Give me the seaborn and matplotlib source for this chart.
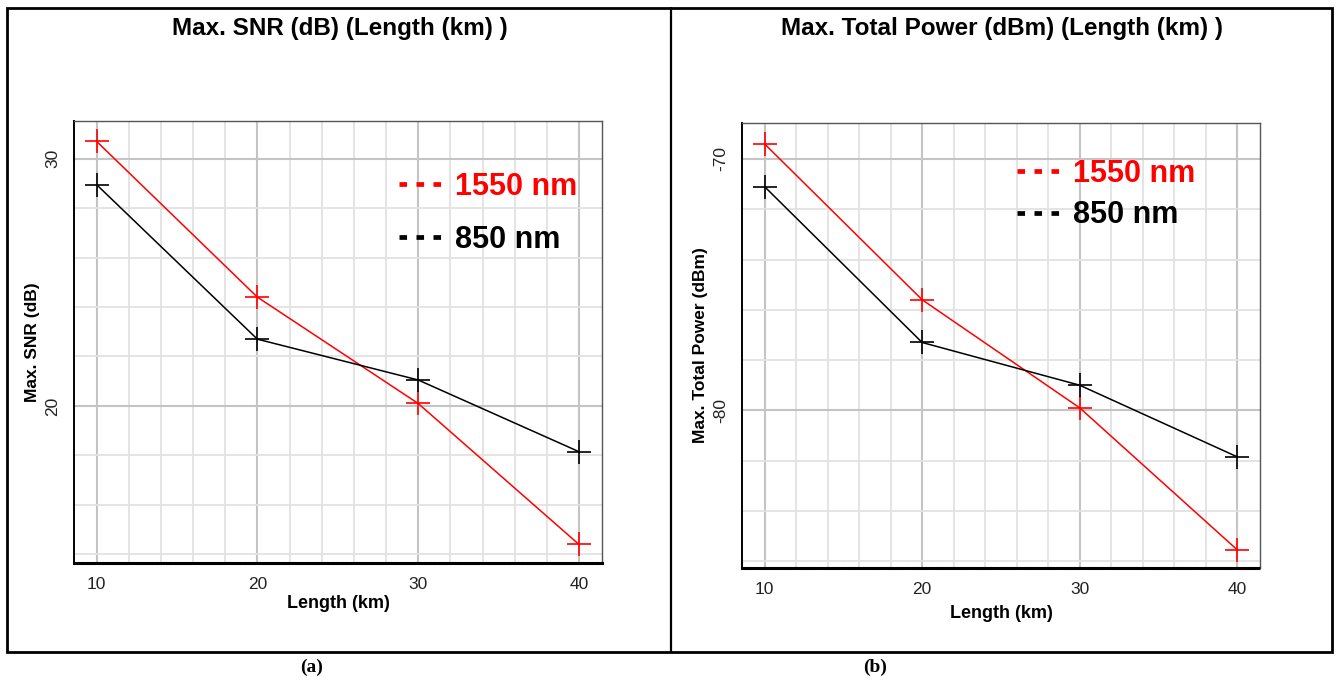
import numpy as np
import pandas as pd
import seaborn as sns
import matplotlib.pyplot as plt
from matplotlib.lines import Line2D
from matplotlib.patches import Rectangle
from matplotlib.ticker import MultipleLocator

# data
LENGTH_KM = [10, 20, 30, 40]
SNR_1550 = [30.7, 24.4, 20.1, 14.4]
SNR_850 = [28.95, 22.7, 21.05, 18.15]
POWER_1550 = [-69.4, -75.6, -79.9, -85.55]
POWER_850 = [-71.1, -77.3, -79.0, -81.85]
WAVELENGTHS = ['1550 nm', '850 nm']
COLORS = {'1550 nm': '#ff0000', '850 nm': '#000000'}

sns.set_style('white')
plt.rcParams['font.family'] = ['Liberation Sans', 'DejaVu Sans']
plt.rcParams['axes.unicode_minus'] = False
plt.rcParams['text.color'] = 'black'
plt.rcParams['axes.labelcolor'] = 'black'


def make_df(v1550, v850, name):
    df = pd.DataFrame({
        'Length': LENGTH_KM * 2,
        name: list(v1550) + list(v850),
        'Wavelength': [WAVELENGTHS[0]] * 4 + [WAVELENGTHS[1]] * 4,
    })
    return df


def style_axes(ax, xlim, ylim, yticks):
    ax.set_xlim(*xlim)
    ax.set_ylim(*ylim)
    ax.set_xticks(LENGTH_KM)
    ax.set_yticks(yticks)
    ax.xaxis.set_minor_locator(MultipleLocator(2))
    ax.yaxis.set_minor_locator(MultipleLocator(2))
    ax.grid(which='minor', color='#e2e2e2', lw=1.3, zorder=0)
    ax.grid(which='major', color='#c4c4c4', lw=1.5, zorder=0)
    ax.set_axisbelow(True)
    for s in ('top', 'right'):
        ax.spines[s].set_visible(True)
        ax.spines[s].set_linestyle((0, (1, 1)))
        ax.spines[s].set_color('#555555')
        ax.spines[s].set_linewidth(1.0)
    ax.spines['bottom'].set_linestyle((0, (1, 0.6)))
    ax.spines['bottom'].set_linewidth(2.2)
    ax.spines['bottom'].set_color('black')
    ax.spines['left'].set_linewidth(1.4)
    ax.spines['left'].set_color('black')
    ax.tick_params(axis='x', which='major', length=0, pad=10, labelsize=12.5, labelcolor='#222222')
    ax.tick_params(axis='x', which='minor', length=4, direction='inout', width=1.2, color='black')
    ax.tick_params(axis='y', which='major', length=8, direction='out', width=1.2, pad=2,
                   labelsize=12.5, labelrotation=90, color='black', labelcolor='#222222')
    ax.tick_params(axis='y', which='minor', length=6, direction='inout', width=1.2, color='black')
    for lab in ax.get_yticklabels():
        lab.set_va('center')


def draw(ax, v1550, v850, name):
    df = make_df(v1550, v850, name)
    for w in WAVELENGTHS:
        sub = df[df.Wavelength == w]
        sns.lineplot(data=sub, x='Length', y=name, ax=ax, color=COLORS[w], lw=1.1,
                     marker='+', markersize=17, markeredgewidth=1.2,
                     markeredgecolor=COLORS[w], legend=False, zorder=3)


fig = plt.figure(figsize=(13.38, 6.82), dpi=100)

# table frame
fig.patches.append(Rectangle((7 / 1338, 1 - 652 / 682), (1332 - 7) / 1338, (652 - 8) / 682,
                             transform=fig.transFigure, fill=False, lw=2, ec='black'))
fig.add_artist(Line2D([671 / 1338, 671 / 1338], [1 - 8 / 682, 1 - 652 / 682],
                      transform=fig.transFigure, color='black', lw=1.6))

ax1 = fig.add_axes([74 / 1338, 1 - 563 / 682, 528 / 1338, 442 / 682])
draw(ax1, SNR_1550, SNR_850, 'SNR')
style_axes(ax1, (8.6, 41.43), (13.65, 31.52), [20, 30])
ax1.set_xlabel('Length (km)', fontsize=13, fontweight='bold', labelpad=2)
ax1.set_ylabel('Max. SNR (dB)', fontsize=12.5, fontweight='bold', labelpad=4)

ax2 = fig.add_axes([742 / 1338, 1 - 568 / 682, 518 / 1338, 445 / 682])
draw(ax2, POWER_1550, POWER_850, 'Power')
style_axes(ax2, (8.57, 41.44), (-86.27, -68.57), [-80, -70])
ax2.set_xlabel('Length (km)', fontsize=13, fontweight='bold', labelpad=6)
ax2.set_ylabel('Max. Total Power (dBm)', fontsize=12.5, fontweight='bold', labelpad=4)

fig.text(340 / 1338, 1 - 28 / 682, 'Max. SNR (dB) (Length (km) )', ha='center', va='center',
         fontsize=17.5, fontweight='bold')
fig.text(1002 / 1338, 1 - 28 / 682, 'Max. Total Power (dBm) (Length (km) )', ha='center',
         va='center', fontsize=17.5, fontweight='bold')

handles = [Line2D([], [], color=COLORS[w], lw=3.4, linestyle=(0, (1.6, 2.0))) for w in WAVELENGTHS]
leg1 = ax1.legend(handles, WAVELENGTHS, loc='upper left', bbox_to_anchor=(0.615, 0.885),
                  frameon=False, prop={'weight': 'bold', 'size': 22},
                  handlelength=1.6, handletextpad=0.25, labelspacing=0.75, borderaxespad=0,
                  borderpad=0, labelcolor='linecolor')
leg2 = ax2.legend(handles, WAVELENGTHS, loc='upper left', bbox_to_anchor=(0.53, 0.92),
                  frameon=False, prop={'weight': 'bold', 'size': 22},
                  handlelength=1.6, handletextpad=0.25, labelspacing=0.38, borderaxespad=0,
                  borderpad=0, labelcolor='linecolor')

fig.text(312 / 1338, 1 - 667 / 682, '(a)', ha='center', va='center', fontsize=14,
         fontweight='bold', family=['Liberation Serif', 'DejaVu Serif'])
fig.text(875 / 1338, 1 - 667 / 682, '(b)', ha='center', va='center', fontsize=14,
         fontweight='bold', family=['Liberation Serif', 'DejaVu Serif'])

fig.savefig('out.png', dpi=100)
